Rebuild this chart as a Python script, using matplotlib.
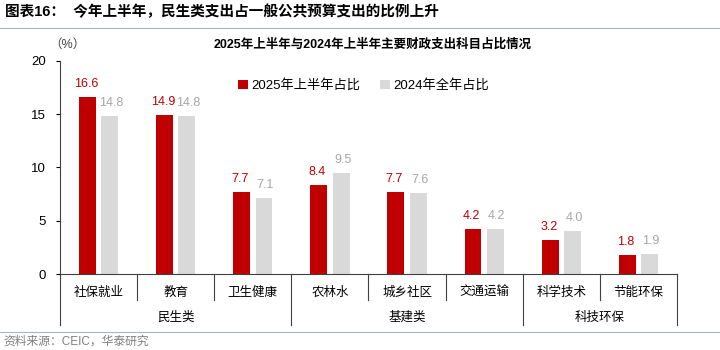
import matplotlib.pyplot as plt
from matplotlib.lines import Line2D
import numpy as np

plt.rcParams['font.family'] = ['Liberation Sans', 'Noto Sans CJK SC']

categories = ['社保就业', '教育', '卫生健康', '农林水', '城乡社区', '交通运输', '科学技术', '节能环保']
groups = ['民生类', '基建类', '科技环保']
group_sizes = [3, 3, 2]
h1_2025 = [16.6, 14.9, 7.7, 8.4, 7.7, 4.2, 3.2, 1.8]
full_2024 = [14.8, 14.8, 7.1, 9.5, 7.6, 4.2, 4.0, 1.9]
series_names = ['2025年上半年占比', '2024年全年占比']

red = '#C00000'
grey = '#D9D9D9'
grey_text = '#A6A6A6'

fig = plt.figure(figsize=(7.2, 3.5), dpi=100)
ax = fig.add_axes([0.0833, 0.217, 0.857, 0.609])

x = np.arange(len(categories))
w = 0.22
off = 0.145
ax.bar(x - off, h1_2025, w, color=red, label=series_names[0])
ax.bar(x + off, full_2024, w, color=grey, label=series_names[1])

for xi, v in zip(x, h1_2025):
    ax.annotate(f'{v:.1f}', (xi - off, v), xytext=(-1, 5), textcoords='offset points',
                ha='center', va='bottom', color=red, fontsize=9)
for xi, v in zip(x, full_2024):
    ax.annotate(f'{v:.1f}', (xi + off, v), xytext=(1, 5), textcoords='offset points',
                ha='center', va='bottom', color=grey_text, fontsize=9)

ax.set_xlim(-0.5, len(categories) - 0.5)
ax.set_ylim(0, 20)
ax.set_yticks([0, 5, 10, 15, 20])
ax.tick_params(axis='y', direction='out', length=3, labelsize=9.5, pad=7)
ax.set_xticks([])
for s in ['top', 'right']:
    ax.spines[s].set_visible(False)
ax.spines['left'].set_color('#404040')
ax.spines['bottom'].set_color('#404040')
ax.spines['left'].set_linewidth(0.8)
ax.spines['bottom'].set_linewidth(0.8)

# category dividers and group brackets below the axis
trans = ax.get_xaxis_transform()
bounds = np.cumsum(group_sizes)
minor_y = -0.122
major_y = -0.239
ax.add_line(Line2D([-0.5, -0.5], [0, major_y], transform=trans, color='#404040', lw=0.8, clip_on=False))
for i in range(1, len(categories) + 1):
    edge = i - 0.5
    low = major_y if i in bounds else minor_y
    ax.add_line(Line2D([edge, edge], [0, low], transform=trans, color='#404040', lw=0.8, clip_on=False))

for xi, c in zip(x, categories):
    ax.text(xi, -0.085, c, transform=trans, ha='center', va='center', fontsize=9,
            family='Noto Sans CJK SC')
start = 0
for g, n in zip(groups, group_sizes):
    ax.text(start + (n - 1) / 2, -0.202, g, transform=trans, ha='center', va='center',
            fontsize=9, family='Noto Sans CJK SC')
    start += n

ax.legend(loc='upper left', bbox_to_anchor=(0.27, 0.97), ncol=2, frameon=False,
          fontsize=9.5, handlelength=0.7, handleheight=0.7, handletextpad=0.3,
          columnspacing=1.5)

fig.text(0.007, 0.965, '图表16：  今年上半年，民生类支出占一般公共预算支出的比例上升',
         fontsize=10.5, fontweight='bold', va='center', ha='left')
fig.add_artist(Line2D([0, 1], [0.92, 0.92], color='#A6B4C4', lw=0.8))
fig.text(0.517, 0.874, '2025年上半年与2024年上半年主要财政支出科目占比情况',
         fontsize=9, fontweight='bold', va='center', ha='center')
fig.text(0.094, 0.871, '（%）', fontsize=9, va='center', ha='center', color='#404040')
fig.add_artist(Line2D([0, 1], [0.051, 0.051], color='#A6B4C4', lw=0.8))
fig.text(0.005, 0.025, '资料来源：CEIC，华泰研究', fontsize=8.5, va='center', ha='left',
         color='#7F7F7F')

fig.savefig('out.png', dpi=100)
